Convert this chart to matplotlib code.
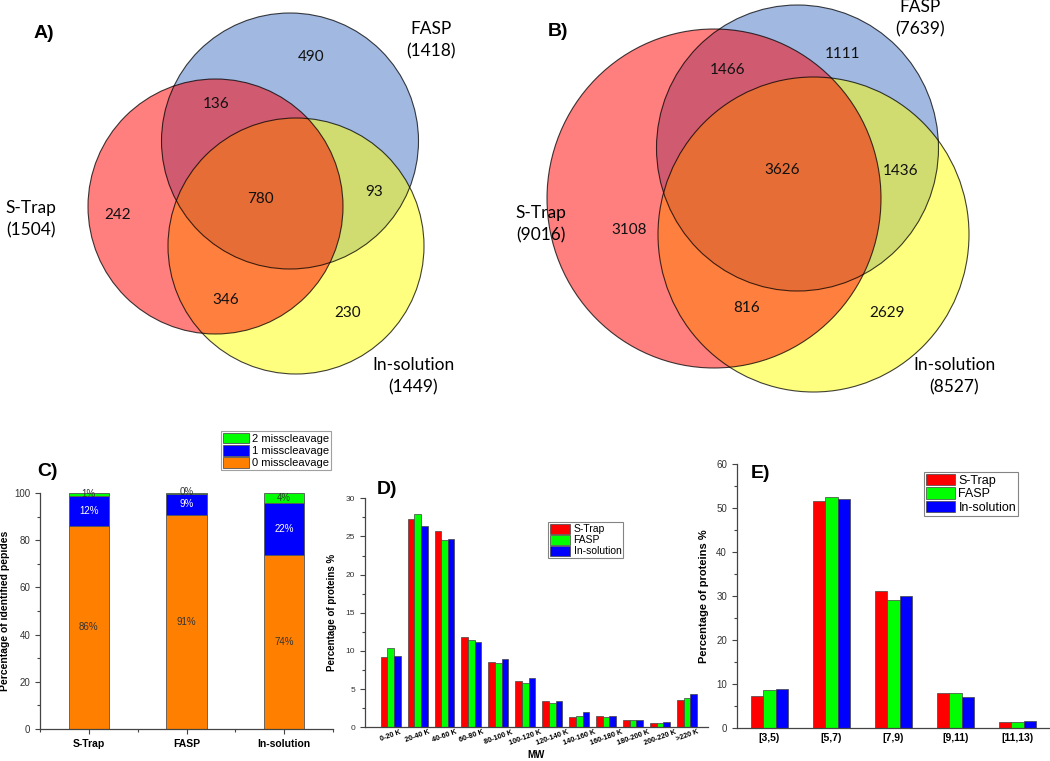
import numpy as np
import matplotlib
matplotlib.use("Agg")
import matplotlib.pyplot as plt
from matplotlib.patches import Ellipse, Patch
from matplotlib.ticker import MultipleLocator

plt.rcParams['font.family'] = ['Liberation Sans', 'DejaVu Sans']

# ===============================================
# Data
# ===============================================

# Venn diagrams (A: proteins, B: peptides)
set_keys = ["S", "F", "I"]
set_names = ["S-Trap", "FASP", "In-solution"]
venn_a_totals = [1504, 1418, 1449]
venn_b_totals = [9016, 7639, 8527]
region_keys = ["S", "F", "I", "SF", "SI", "FI", "SFI"]
venn_a_counts = [242, 490, 230, 136, 346, 93, 780]
venn_b_counts = [3108, 1111, 2629, 1466, 816, 1436, 3626]

# C) missed cleavages (%)
methods = ["S-Trap", "FASP", "In-solution"]
miss0 = [86.2, 90.7, 73.6]
miss1 = [12.4, 8.9, 22.2]
miss2 = [1.4, 0.4, 4.2]

# D) molecular weight distribution (%)
mw_bins = ["0-20 K", "20-40 K", "40-60 K", "60-80 K", "80-100 K", "100-120 K",
           "120-140 K", "140-160 K", "160-180 K", "180-200 K", "200-220 K", ">220 K"]
mw_strap = [9.2, 27.3, 25.7, 11.8, 8.6, 6.1, 3.4, 1.4, 1.5, 1.0, 0.5, 3.6]
mw_fasp = [10.4, 27.9, 24.6, 11.4, 8.4, 5.8, 3.2, 1.5, 1.4, 0.9, 0.6, 3.9]
mw_insol = [9.4, 26.4, 24.7, 11.2, 8.9, 6.4, 3.5, 2.0, 1.5, 0.9, 0.7, 4.3]

# E) pI distribution (%)
pi_bins = ["[3,5)", "[5,7)", "[7,9)", "[9,11)", "[11,13)"]
pi_strap = [7.3, 51.6, 31.2, 8.0, 1.3]
pi_fasp = [8.6, 52.4, 29.2, 8.0, 1.4]
pi_insol = [8.8, 52.0, 30.0, 7.1, 1.6]

# ===============================================
# Layout (figure pixel coordinates, y downward)
# ===============================================

venn_a_layout = {
    "circles": {"F": (290, 141, 257, 256), "I": (296, 246, 256, 256), "S": (215.5, 206.5, 255, 255)},
    "regions": {"S": (118, 215), "F": (310.7, 56.7), "I": (347.7, 313.3), "SF": (216, 104),
                "SI": (225.7, 300), "FI": (374, 192), "SFI": (260, 199)},
    "labels": {"S": (31, 208), "F": (430.7, 29.3), "I": (413, 365)},
    "tag": ("A)", 44, 34),
}
venn_b_layout = {
    "circles": {"F": (797.5, 148, 282, 286), "I": (813.5, 234.5, 311, 315), "S": (714, 198.5, 334, 339)},
    "regions": {"S": (629.3, 230), "F": (842.7, 54.3), "I": (886.7, 313.3), "SF": (727.3, 70),
                "SI": (747, 308.3), "FI": (901, 170.7), "SFI": (782.3, 170)},
    "labels": {"S": (541, 213), "F": (920, 6.5), "I": (954.3, 365)},
    "tag": ("B)", 558, 32),
}
venn_colors = {"F": "#4472c4", "I": "#ffff00", "S": "#ff0000"}

W, H = 1050, 761
fig = plt.figure(figsize=(W / 100, H / 100), dpi=100)

# ===============================================
# Venn diagrams
# ===============================================

ax_v = fig.add_axes([0, 0, 1, 1])
ax_v.set_xlim(0, W)
ax_v.set_ylim(H, 0)
ax_v.axis("off")


def draw_venn(ax, layout, counts, totals):
    for key in ["F", "I", "S"]:
        cx, cy, w, h = layout["circles"][key]
        ax.add_patch(Ellipse((cx, cy), w, h, facecolor=venn_colors[key], alpha=0.5,
                             edgecolor="none"))
    for key in ["F", "I", "S"]:
        cx, cy, w, h = layout["circles"][key]
        ax.add_patch(Ellipse((cx, cy), w, h, facecolor="none",
                             edgecolor=(0, 0, 0, 0.75), linewidth=0.8))
    for key, n in zip(region_keys, counts):
        x, y = layout["regions"][key]
        ax.text(x, y, str(n), ha="center", va="center", fontsize=11,
                family="Lato", color="#111111")
    for key, name, tot in zip(set_keys, set_names, totals):
        x, y = layout["labels"][key]
        ax.text(x, y, name, ha="center", va="center", fontsize=12.5, family="Lato")
        ax.text(x, y + 22.5, "(%d)" % tot, ha="center", va="center", fontsize=12.5,
                family="Lato")
    tag, tx, ty = layout["tag"]
    ax.text(tx, ty, tag, ha="center", va="center", fontsize=14, fontweight="bold")


draw_venn(ax_v, venn_a_layout, venn_a_counts, venn_a_totals)
draw_venn(ax_v, venn_b_layout, venn_b_counts, venn_b_totals)


def px_axes(left, top, right, bottom):
    return fig.add_axes([left / W, 1 - bottom / H, (right - left) / W, (bottom - top) / H])


def style_axis(ax, labelsize=6):
    for s in ["top", "right"]:
        ax.spines[s].set_visible(False)
    for s in ["left", "bottom"]:
        ax.spines[s].set_color("#444444")
        ax.spines[s].set_linewidth(0.9)
    ax.tick_params(which="both", direction="out", color="#444444", width=0.8,
                   labelcolor="#333333", labelsize=labelsize)
    ax.tick_params(which="major", length=3.5)
    ax.tick_params(which="minor", length=2)
    ax.patch.set_alpha(0)


# ===============================================
# C) Missed cleavages
# ===============================================

ax_c = px_axes(40, 493, 333, 729)
x = np.arange(1, len(methods) + 1)
m0 = np.array(miss0)
m1 = np.array(miss1)
m2 = np.array(miss2)
bw = 0.41
ax_c.bar(x, m0, bw, color="#ff8000", edgecolor="#555555", linewidth=0.6)
ax_c.bar(x, m1, bw, bottom=m0, color="#0000ff", edgecolor="#555555", linewidth=0.6)
ax_c.bar(x, m2, bw, bottom=m0 + m1, color="#00ff00", edgecolor="#555555", linewidth=0.6)

for i in range(len(methods)):
    ax_c.text(x[i], m0[i] / 2, "%.0f%%" % m0[i], ha="center", va="center",
              fontsize=7, color="#333333")
    ax_c.text(x[i], m0[i] + m1[i] / 2, "%.0f%%" % m1[i], ha="center", va="center",
              fontsize=7, color="white")
    ax_c.text(x[i], m0[i] + m1[i] + max(m2[i] / 2, 0.9), "%.0f%%" % m2[i], ha="center",
              va="center", fontsize=7, color="#333333")

ax_c.set_xlim(0.5, 3.5)
ax_c.set_ylim(0, 100)
ax_c.set_xticks(x)
ax_c.set_xticklabels(methods, fontweight="bold", fontsize=7.5)
ax_c.xaxis.set_minor_locator(MultipleLocator(0.5))
ax_c.set_yticks(np.arange(0, 101, 20))
ax_c.yaxis.set_minor_locator(MultipleLocator(10))
ax_c.set_ylabel("Percentage of identified pepides", fontweight="bold", fontsize=7.5,
                labelpad=3)
style_axis(ax_c, 7)
ax_c.tick_params(axis="x", labelcolor="black", labelsize=7.5)

c_handles = [Patch(facecolor="#00ff00", edgecolor="#555555", lw=0.6),
             Patch(facecolor="#0000ff", edgecolor="#555555", lw=0.6),
             Patch(facecolor="#ff8000", edgecolor="#555555", lw=0.6)]
leg = fig.legend(c_handles, ["2 misscleavage", "1 misscleavage", "0 misscleavage"],
                 loc="upper left", bbox_to_anchor=(221 / W, 1 - 431 / H), fontsize=8,
                 frameon=True, fancybox=False, handlelength=2.4, handleheight=1.1,
                 labelspacing=0.1, borderpad=0.15, handletextpad=0.25, borderaxespad=0)
leg.get_frame().set_edgecolor("#888888")
leg.get_frame().set_linewidth(0.8)
fig.text(47 / W, 1 - 472 / H, "C)", ha="center", va="center", fontsize=14,
         fontweight="bold")

# ===============================================
# D) Molecular weight
# ===============================================

ax_d = px_axes(365, 498.3, 708, 727.3)
xd = np.arange(1, len(mw_bins) + 1)
bw = 0.247
ax_d.bar(xd - bw, mw_strap, bw, color="#ff0000", edgecolor="#444444", linewidth=0.5,
         label="S-Trap")
ax_d.bar(xd, mw_fasp, bw, color="#00ff00", edgecolor="#444444", linewidth=0.5,
         label="FASP")
ax_d.bar(xd + bw, mw_insol, bw, color="#0000ff", edgecolor="#444444", linewidth=0.5,
         label="In-solution")
ax_d.set_xlim(0.05, 12.78)
ax_d.set_ylim(0, 30)
ax_d.set_xticks(xd)
ax_d.set_xticklabels(mw_bins, rotation=20, ha="center", fontweight="bold", fontsize=5)
ax_d.set_yticks(np.arange(0, 31, 5))
ax_d.yaxis.set_minor_locator(MultipleLocator(2.5))
ax_d.set_ylabel("Percentage of proteins %", fontweight="bold", fontsize=7, labelpad=6)
ax_d.set_xlabel("MW", fontweight="bold", fontsize=7, labelpad=2)
style_axis(ax_d, 6)
ax_d.tick_params(axis="x", labelcolor="black", labelsize=5.2, pad=1)
ax_d.tick_params(axis="x", which="major", length=0)
leg = ax_d.legend(loc="upper left", bbox_to_anchor=((548 - 365) / 343, 1 - (522 - 498.3) / 229),
                  fontsize=7.5, frameon=True, fancybox=False, handlelength=2.0,
                  handleheight=1.1, labelspacing=0.05, borderpad=0.15, handletextpad=0.3,
                  borderaxespad=0)
leg.get_frame().set_edgecolor("#666666")
leg.get_frame().set_linewidth(0.8)
fig.text(387 / W, 1 - 490 / H, "D)", ha="center", va="center", fontsize=14,
         fontweight="bold")

# ===============================================
# E) Isoelectric point
# ===============================================

ax_e = px_axes(736.7, 464, 1049, 728)
xe = np.arange(1, len(pi_bins) + 1)
bw = 0.2
ax_e.bar(xe - bw, pi_strap, bw, color="#ff0000", edgecolor="#444444", linewidth=0.5,
         label="S-Trap")
ax_e.bar(xe, pi_fasp, bw, color="#00ff00", edgecolor="#444444", linewidth=0.5,
         label="FASP")
ax_e.bar(xe + bw, pi_insol, bw, color="#0000ff", edgecolor="#444444", linewidth=0.5,
         label="In-solution")
ax_e.set_xlim(0.474, 5.51)
ax_e.set_ylim(0, 60)
ax_e.set_xticks(xe)
ax_e.set_xticklabels(pi_bins, fontweight="bold", fontsize=7.5)
ax_e.set_yticks(np.arange(0, 61, 10))
ax_e.yaxis.set_minor_locator(MultipleLocator(5))
ax_e.set_ylabel("Percentage of proteins %", fontweight="bold", fontsize=8, labelpad=5)
style_axis(ax_e, 7)
ax_e.tick_params(axis="x", labelcolor="black", labelsize=7.5)
ax_e.tick_params(axis="x", which="major", length=0)
leg = ax_e.legend(loc="upper left", bbox_to_anchor=((924 - 736.7) / 312.3, 1 - (472 - 464) / 264),
                  fontsize=9, frameon=True, fancybox=False, handlelength=2.3,
                  handleheight=1.0, labelspacing=0.05, borderpad=0.15, handletextpad=0.3,
                  borderaxespad=0)
leg.get_frame().set_edgecolor("#666666")
leg.get_frame().set_linewidth(0.8)
fig.text(761 / W, 1 - 473 / H, "E)", ha="center", va="center", fontsize=14,
         fontweight="bold")

fig.savefig("out.png", dpi=100)
